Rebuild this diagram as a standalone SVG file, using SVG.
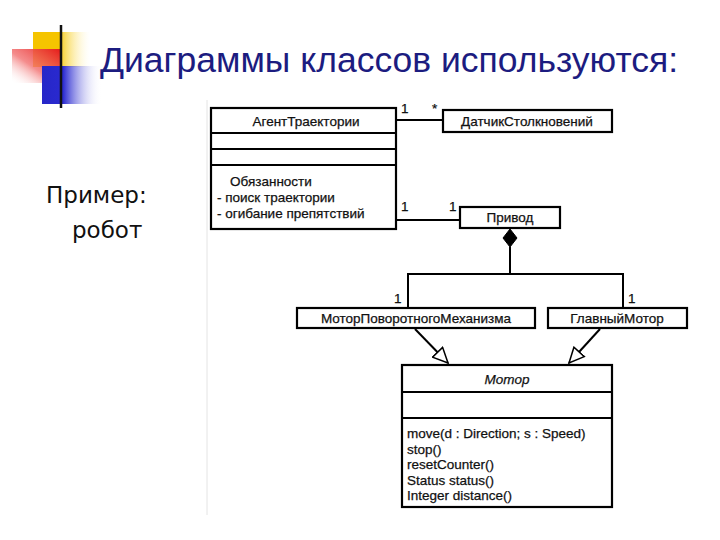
<svg xmlns="http://www.w3.org/2000/svg" width="720" height="540" viewBox="0 0 720 540">
<defs>
<linearGradient id="gY" x1="0" y1="0" x2="1" y2="0"><stop offset="0" stop-color="#f7d23a"/><stop offset="1" stop-color="#fff8d0" stop-opacity="0"/></linearGradient>
<linearGradient id="gR" x1="1" y1="0" x2="0" y2="1"><stop offset="0" stop-color="#e51a1a"/><stop offset="0.55" stop-color="#f27070" stop-opacity="0.8"/><stop offset="1" stop-color="#ffffff" stop-opacity="0"/></linearGradient>
<linearGradient id="gB" x1="0" y1="0" x2="1" y2="0"><stop offset="0" stop-color="#2626c8"/><stop offset="0.35" stop-color="#2a2ad0"/><stop offset="1" stop-color="#ffffff" stop-opacity="0"/></linearGradient>
<linearGradient id="gL" x1="0" y1="0" x2="1" y2="0"><stop offset="0" stop-color="#1a1a1a"/><stop offset="0.2" stop-color="#333"/><stop offset="1" stop-color="#ffffff" stop-opacity="0"/></linearGradient>
<marker id="gen" markerWidth="18" markerHeight="16" refX="16" refY="8" orient="auto" markerUnits="userSpaceOnUse"><path d="M1,1 L16,8 L1,15 Z" fill="#fff" stroke="#000" stroke-width="1.5"/></marker>
<style>
.box{fill:#fff;stroke:#000;stroke-width:2.2}
.ln{fill:none;stroke:#000;stroke-width:2}
.t{font-family:"Liberation Sans",Arial,sans-serif;font-size:13.5px;fill:#111;stroke:#111;stroke-width:0.25}
.c{text-anchor:middle}
</style>
</defs>
<rect width="720" height="540" fill="#fff"/>
<rect x="33" y="32" width="29" height="35" fill="#f5c400"/>
<rect x="62" y="32" width="28" height="35" fill="url(#gY)"/>
<rect x="12" y="49" width="49" height="34" fill="url(#gR)"/>
<rect x="42" y="66" width="60" height="38" fill="url(#gB)"/>
<line x1="61" y1="25" x2="61" y2="108" stroke="#111" stroke-width="2.5"/>
<line x1="28" y1="85" x2="680" y2="85" stroke="url(#gL)" stroke-width="3"/>
<text x="100" y="72" font-family="Liberation Sans,Arial,sans-serif" font-size="35.5" fill="#1c1c80">Диаграммы классов используются:</text>
<text x="46" y="203" font-family="DejaVu Sans,Verdana,sans-serif" font-size="23" fill="#111">Пример:</text>
<text x="72" y="238" font-family="DejaVu Sans,Verdana,sans-serif" font-size="23" fill="#111">робот</text>
<line x1="207" y1="100" x2="207" y2="515" stroke="#e4e4e4" stroke-width="1"/>
<g id="connectors">
<line class="ln" x1="396" y1="120" x2="443" y2="120"/>
<text class="t" x="401" y="113">1</text>
<text class="t" x="432" y="113">*</text>
<line class="ln" x1="396" y1="220" x2="460" y2="220"/>
<text class="t" x="401" y="211">1</text>
<text class="t" x="449" y="211">1</text>
<path d="M510,229 L517,238 L510,247 L503,238 Z" fill="#000" stroke="#000" stroke-width="1"/>
<polyline class="ln" points="510,247 510,274"/>
<polyline class="ln" points="408,308 408,274 623,274 623,308"/>
<text class="t" x="394" y="303">1</text>
<text class="t" x="628" y="303">1</text>
<line class="ln" x1="415" y1="329" x2="448" y2="363" marker-end="url(#gen)"/>
<line class="ln" x1="600" y1="329" x2="569" y2="363" marker-end="url(#gen)"/>
</g>
<g id="agent">
<rect class="box" x="211" y="108" width="185" height="121"/>
<line class="ln" x1="211" y1="133" x2="396" y2="133"/>
<line class="ln" x1="211" y1="149" x2="396" y2="149"/>
<line class="ln" x1="211" y1="165" x2="396" y2="165"/>
<text class="t c" x="306" y="126">АгентТраектории</text>
<text class="t" x="230" y="186">Обязанности</text>
<text class="t" x="217" y="202">- поиск траектории</text>
<text class="t" x="217" y="218">- огибание препятствий</text>
</g>
<g id="sensor">
<rect class="box" x="443" y="110" width="169" height="22"/>
<text class="t c" x="527" y="126">ДатчикСтолкновений</text>
</g>
<g id="drive">
<rect class="box" x="460" y="207" width="100" height="21"/>
<text class="t c" x="510" y="222">Привод</text>
</g>
<g id="rotmotor">
<rect class="box" x="297" y="308" width="238" height="20"/>
<text class="t c" x="416" y="323">МоторПоворотногоМеханизма</text>
</g>
<g id="mainmotor">
<rect class="box" x="548" y="308" width="139" height="20"/>
<text class="t c" x="617" y="323">ГлавныйМотор</text>
</g>
<g id="motor">
<rect class="box" x="402" y="365" width="210" height="142"/>
<line class="ln" x1="402" y1="392" x2="612" y2="392"/>
<line class="ln" x1="402" y1="418" x2="612" y2="418"/>
<text class="t c" x="507" y="384" font-style="italic">Мотор</text>
<text class="t" x="407" y="438">move(d : Direction; s : Speed)</text>
<text class="t" x="407" y="454">stop()</text>
<text class="t" x="407" y="469">resetCounter()</text>
<text class="t" x="407" y="485">Status status()</text>
<text class="t" x="407" y="500">Integer distance()</text>
</g>
</svg>
